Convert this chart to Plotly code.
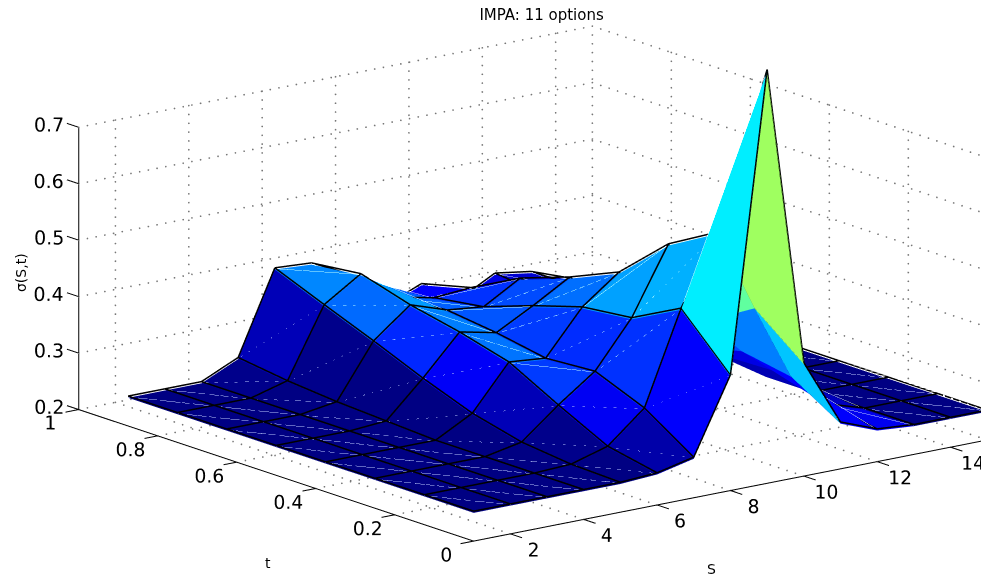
import numpy as np
import plotly.graph_objects as go

S_values = list(range(1, 16))
t_values = [0, 0.125, 0.25, 0.375, 0.5, 0.625, 0.75, 0.875]

# sigma(S,t): one list per S, running over t_values
sigma_S1 = [.25, .25, .25, .25, .25, .25, .25, .25]
sigma_S2 = [.25, .25, .25, .25, .25, .25, .25, .25]
sigma_S3 = [.25, .25, .25, .25, .25, .25, .25, .25]
sigma_S4 = [.25, .25, .25, .25, .255, .26, .268, .28]
sigma_S5 = [.25, .253, .263, .285, .318, .355, .390, .426]
sigma_S6 = [.254, .272, .316, .363, .387, .406, .432, .422]
sigma_S7 = [.269, .327, .363, .357, .373, .384, .377, .39]
sigma_S8 = [.402, .491, .445, .435, .408, .377, .364, .32]
sigma_S9 = [.93, .613, .563, .484, .446, .415, .369, .347]
sigma_S10 = [.398, .468, .416, .40, .39, .37, .33, .305]
sigma_S11 = [.28, .334, .35, .33, .33, .33, .33, .34]
sigma_S12 = [.255, .27, .30, .31, .32, .325, .33, .33]
sigma_S13 = [.25, .25, .25, .25, .26, .27, .285, .306]
sigma_S14 = [.25, .25, .25, .25, .25, .25, .25, .25]
sigma_S15 = [.25, .25, .25, .25, .25, .25, .25, .25]
sigma = [sigma_S1, sigma_S2, sigma_S3, sigma_S4, sigma_S5, sigma_S6, sigma_S7, sigma_S8,
         sigma_S9, sigma_S10, sigma_S11, sigma_S12, sigma_S13, sigma_S14, sigma_S15]

# colormap level of each facet: one list per S interval, running over t intervals
shade_S1 = [0, 0, 0, 0, 0, 0, 0]
shade_S2 = [0, 0, 0, 0, 0, 0, 0]
shade_S3 = [0, 0, 0, 0, 0, 0, .01]
shade_S4 = [0, 0, 0, 0, 0, .01, .055]
shade_S5 = [0, .01, .055, .12, .165, .23, .26]
shade_S6 = [.04, .115, .185, .24, .25, .28, .27]
shade_S7 = [.125, .175, .17, .185, .21, .22, .22]
shade_S8 = [.36, .30, .285, .235, .20, .175, .125]
shade_S9 = [.53, .47, .30, .25, .20, .17, .14]
shade_S10 = [.32, .25, .20, .17, .15, .13, .10]
shade_S11 = [.125, .125, .10, .10, .10, .10, .08]
shade_S12 = [.11, .06, .05, .05, .05, .05, .05]
shade_S13 = [0, 0, 0, 0, 0, 0, 0]
shade_S14 = [0, 0, 0, 0, 0, 0, 0]
shade = [shade_S1, shade_S2, shade_S3, shade_S4, shade_S5, shade_S6, shade_S7,
         shade_S8, shade_S9, shade_S10, shade_S11, shade_S12, shade_S13, shade_S14]

S_ticks = [2, 4, 6, 8, 10, 12, 14]
t_ticks = [0, 0.2, 0.4, 0.6, 0.8, 1]
t_tick_labels = ["0", "0.2", "0.4", "0.6", "0.8", ""]
z_ticks = [0.2, 0.3, 0.4, 0.5, 0.6, 0.7]
z_tick_labels = ["0.2", "0.3", "0.4", "0.5", "0.6", "0.7"]
S_limits = [1, 15]
t_limits = [0, 1]
S_tick_len = 0.36
t_tick_len = 0.03
z_top = 0.94
z_bottom = 0.186
seam_lift = 0.0015
edge_lift = 0.003

jet = [[0, "rgb(0,0,131)"], [.125, "rgb(0,0,255)"], [.375, "rgb(0,255,255)"],
       [.625, "rgb(255,255,0)"], [.875, "rgb(255,0,0)"], [1, "rgb(128,0,0)"]]

nS, nt = len(S_values), len(t_values)
vx, vy, vz = [], [], []
for a in range(nS):
    for b in range(nt):
        vx.append(S_values[a]); vy.append(t_values[b]); vz.append(sigma[a][b])
idx = lambda a, b: a * nt + b
fi, fj, fk, fc = [], [], [], []
for a in range(nS - 1):
    for b in range(nt - 1):
        fi += [idx(a, b), idx(a + 1, b + 1)]
        fj += [idx(a + 1, b), idx(a, b + 1)]
        fk += [idx(a, b + 1), idx(a + 1, b)]
        fc += [shade[a][b]] * 2

fig = go.Figure()
fig.add_trace(go.Mesh3d(x=vx, y=vy, z=vz, i=fi, j=fj, k=fk, intensity=fc, intensitymode="cell",
                        colorscale=jet, cmin=0, cmax=1, showscale=False, flatshading=True,
                        lighting=dict(ambient=1, diffuse=0, specular=0, fresnel=0),
                        hoverinfo="skip"))

# faint seams along the facet diagonals
dx, dy, dz = [], [], []
for a in range(nS - 1):
    for b in range(nt - 1):
        dx += [S_values[a], S_values[a + 1], None]; dy += [t_values[b + 1], t_values[b], None]
        dz += [sigma[a][b + 1] + seam_lift, sigma[a + 1][b] + seam_lift, None]
fig.add_trace(go.Scatter3d(x=dx, y=dy, z=dz, mode="lines",
                           line=dict(color="rgba(190,205,255,0.28)", width=1),
                           hoverinfo="skip", showlegend=False))

ex, ey, ez = [], [], []
for a in range(nS):
    for b in range(nt):
        if b < nt - 1:
            ex += [S_values[a], S_values[a], None]; ey += [t_values[b], t_values[b + 1], None]
            ez += [sigma[a][b] + edge_lift, sigma[a][b + 1] + edge_lift, None]
        if a < nS - 1:
            ex += [S_values[a], S_values[a + 1], None]; ey += [t_values[b], t_values[b], None]
            ez += [sigma[a][b] + edge_lift, sigma[a + 1][b] + edge_lift, None]
fig.add_trace(go.Scatter3d(x=ex, y=ey, z=ez, mode="lines", line=dict(color="black", width=3),
                           hoverinfo="skip", showlegend=False))

# dotted grid on the floor and the two back walls, up to the top tick only
z0, z1 = z_ticks[0], z_ticks[-1]
S0, S1 = S_limits
t0, t1 = t_limits
n_along_S, n_along_t, n_along_z = 60, 48, 33
gx, gy, gz = [], [], []


def dots(p, q, n):
    gx.extend(np.linspace(p[0], q[0], n).tolist())
    gy.extend(np.linspace(p[1], q[1], n).tolist())
    gz.extend(np.linspace(p[2], q[2], n).tolist())


for s in S_ticks + [S1]:
    dots((s, t0, z0), (s, t1, z0), n_along_t)
    dots((s, t1, z0), (s, t1, z1), n_along_z)
for t in t_ticks:
    if t != t0:
        dots((S0, t, z0), (S1, t, z0), n_along_S)
    dots((S1, t, z0), (S1, t, z1), n_along_z)
for z in z_ticks:
    dots((S0, t1, z), (S1, t1, z), n_along_S)
    dots((S1, t0, z), (S1, t1, z), n_along_t)
fig.add_trace(go.Scatter3d(x=gx, y=gy, z=gz, mode="markers",
                           marker=dict(color="#777777", size=1, line=dict(width=0)),
                           hoverinfo="skip", showlegend=False))

# solid axis lines and their tick marks
ax = [S0, S1, None, S0, S0, None, S0, S0, None]
ay = [t0, t0, None, t0, t1, None, t1, t1, None]
az = [z0, z0, None, z0, z0, None, z0, z1, None]
for s in S_ticks:
    ax += [s, s, None]; ay += [t0, t0 - t_tick_len, None]; az += [z0, z0, None]
for t in t_ticks:
    ax += [S0, S0 - S_tick_len, None]; ay += [t, t, None]; az += [z0, z0, None]
for z in z_ticks:
    ax += [S0, S0, None]; ay += [t1, t1 + t_tick_len, None]; az += [z, z, None]
fig.add_trace(go.Scatter3d(x=ax, y=ay, z=az, mode="lines", line=dict(color="black", width=2),
                           hoverinfo="skip", showlegend=False))

family = "DejaVu Sans, Liberation Sans, sans-serif"
tickfont = dict(family=family, size=15, color="black")
titlefont = dict(family=family, size=14, color="black")
textfont = dict(family=family, size=19, color="black")
# z tick labels stand left of the axis; the t = 1 label sits under the corner, clear of 0.2
fig.add_trace(go.Scatter3d(x=[S0 + .4] * len(z_ticks), y=[t1 + t_tick_len] * len(z_ticks),
                           z=[v - .007 for v in z_ticks],
                           mode="text", text=z_tick_labels, textposition="middle left", textfont=textfont,
                           hoverinfo="skip", showlegend=False))
fig.add_trace(go.Scatter3d(x=[S0], y=[t1 + .013], z=[z0 + .02], mode="text", text=["1"],
                           textposition="bottom left", textfont=textfont,
                           hoverinfo="skip", showlegend=False))

common = dict(showgrid=False, zeroline=False, showbackground=False, showline=False, showspikes=False,
              ticks="", tickfont=tickfont, tickmode="array", tickangle=0, title=dict(text=""))

direction = (-.589, -.766, .256)
zoom = 2.238
z_span = z_top - z_bottom
center = (-.0647 * zoom + .0209 + .0288 - .0041 + .0005,
          .0121 * zoom - .0239 + .0032 + .0007,
          -.1128 * zoom - .0234 + .0141 + .0033)
dist = 1.7

fig.update_layout(
    width=989, height=579, margin=dict(l=0, r=0, t=0, b=0), paper_bgcolor="white", showlegend=False,
    title=dict(text="IMPA: 11 options", x=.5395, xanchor="center", y=.988, yanchor="middle",
               font=dict(family=family, size=15, color="black")),
    annotations=[
        dict(text="S", x=703 / 989, y=1 - 561 / 579, xref="paper", yref="paper", showarrow=False,
             xanchor="center", yanchor="middle", font=titlefont),
        dict(text="t", x=260 / 989, y=1 - 555 / 579, xref="paper", yref="paper", showarrow=False,
             xanchor="center", yanchor="middle", font=titlefont),
        dict(text="σ(S,t)", x=13 / 989, y=1 - 265 / 579, xref="paper", yref="paper", showarrow=False,
             textangle=-90, xanchor="center", yanchor="middle", font=titlefont),
    ],
    scene=dict(
        domain=dict(x=[0, 1], y=[0, 1]),
        aspectmode="manual",
        aspectratio=dict(x=zoom * (S1 - S0 + S_tick_len) / (S1 - S0),
                         y=zoom * (t1 - t0 + 2 * t_tick_len) / (t1 - t0),
                         z=.667 * zoom * z_span / .74),
        xaxis=dict(range=[S0 - S_tick_len, S1], tickvals=S_ticks, **common),
        yaxis=dict(range=[t0 - t_tick_len, t1 + t_tick_len], tickvals=t_ticks, ticktext=t_tick_labels, **common),
        zaxis=dict(range=[z_bottom, z_top], tickvals=z_ticks, showticklabels=False, **common),
        camera=dict(projection=dict(type="orthographic"), up=dict(x=0, y=0, z=1),
                    center=dict(x=center[0], y=center[1], z=center[2]),
                    eye=dict(x=center[0] + dist * direction[0], y=center[1] + dist * direction[1],
                             z=center[2] + dist * direction[2])),
    ),
)
fig.write_html("out.html")
